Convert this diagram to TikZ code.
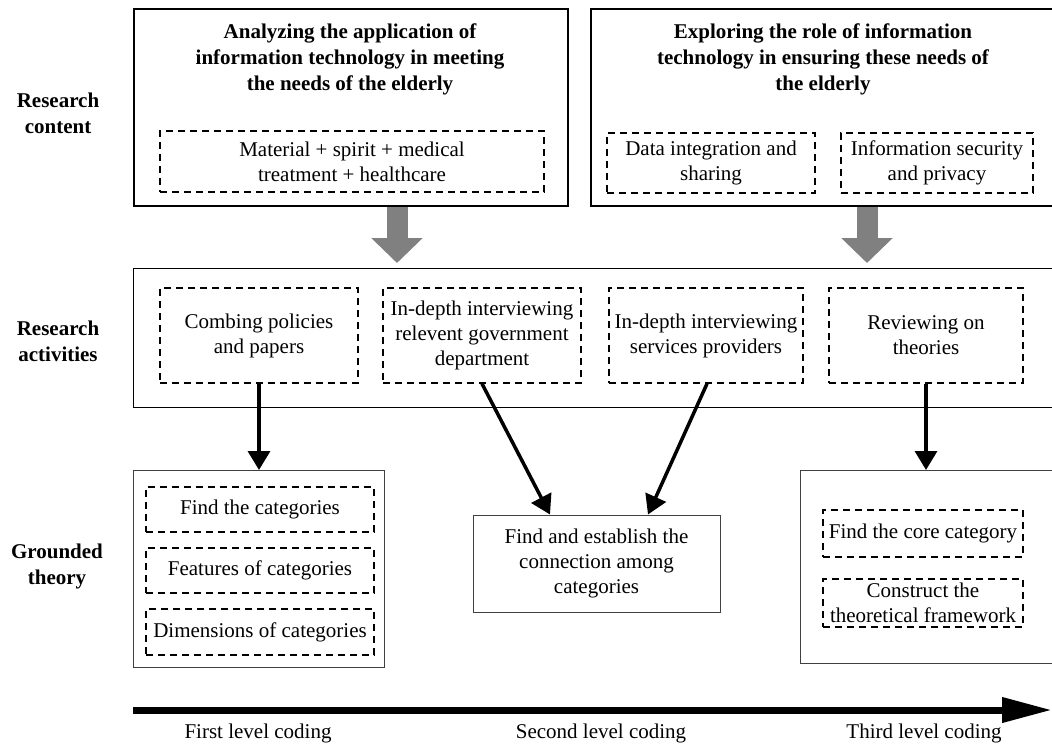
\documentclass[tikz,border=0pt]{standalone}
\usepackage{fontspec}
\setmainfont{Liberation Serif}
\usetikzlibrary{arrows.meta, positioning}

\begin{document}
\begin{tikzpicture}[x=1pt,y=-1pt,font=\fontsize{21}{25}\selectfont,
  outer/.style={draw, line width=1.8pt, inner sep=0pt, anchor=north west},
  inner/.style={draw=black!75, line width=1pt, inner sep=0pt, align=center},
  dbox/.style={draw, line width=1.4pt, dash pattern=on 7pt off 5pt, inner sep=0pt, align=center},
  heading/.style={font=\fontsize{21}{26}\selectfont\bfseries, align=center},
  rowlabel/.style={font=\fontsize{21}{26}\selectfont\bfseries, align=center},
  bigarrow/.style={draw=gray, line width=21pt, shorten >=5pt, -{Triangle[length=25pt,width=50pt]}},
  flow/.style={line width=3.5pt, -{Triangle[length=19pt,width=22pt]}},
  axis/.style={line width=7pt, -{Triangle[length=50pt,width=24pt]}}]

\useasboundingbox (0,0) rectangle (1052,745);

% row labels
  \node[rowlabel] (lcontent)  at (58,113) {Research\\content};
  \node[rowlabel] (lactivity) at (58,341) {Research\\activities};
  \node[rowlabel] (lgrounded) at (57,566) {Grounded\\theory};

% research content
  \node[outer, minimum width=434, minimum height=197] (content1) at (133,8) {};
  \node[heading] (head1) at (350,59)
{Analyzing the application of\\information technology in meeting\\the needs of the elderly};
  \node[dbox, minimum width=384, minimum height=61] (needs) at (352,161.5)
{Material + spirit + medical\\treatment + healthcare};

  \node[outer, minimum width=470, minimum height=197] (content2) at (590,8) {};
  \node[heading] (head2) at (823,59)
{Exploring the role of information\\technology in ensuring these needs of\\the elderly};
  \node[dbox, minimum width=208, minimum height=60] (data) at (711,163)
{Data integration and\\sharing};
  \node[dbox, minimum width=192, minimum height=60] (security) at (937,163)
{Information security\\and privacy};

% research activities
  \node[outer, line width=1.4pt, minimum width=930, minimum height=139] (activities) at (133,268) {};
  \node[dbox, minimum width=198, minimum height=95] (comb) at (259,335.5)
{Combing policies\\and papers};
  \node[dbox, minimum width=198, minimum height=95] (gov) at (482,335.5)
{In-depth interviewing\\relevent government\\department};
  \node[dbox, minimum width=194, minimum height=95] (prov) at (706,335.5)
{In-depth interviewing\\services providers};
  \node[dbox, minimum width=194, minimum height=95] (theo) at (926,335.5)
{Reviewing on\\theories};

% grounded theory
  \node[inner, anchor=north west, minimum width=251, minimum height=197] (ground1) at (133,470) {};
  \node[dbox, minimum width=228, minimum height=45] (cat)  at (260,509.5) {Find the categories};
  \node[dbox, minimum width=228, minimum height=45] (feat) at (260,570.5) {Features of categories};
  \node[dbox, minimum width=228, minimum height=46] (dims) at (260,632) {Dimensions of categories};

  \node[inner, minimum width=247, minimum height=97] (connect) at (596.5,563.5)
{Find and establish the\\connection among\\categories};

  \node[inner, anchor=north west, minimum width=260, minimum height=193] (ground3) at (800,470) {};
  \node[dbox, minimum width=200, minimum height=47] (core)  at (923,533.5) {Find the core category};
  \node[dbox, minimum width=200, minimum height=48] (frame) at (923,603)
{Construct the\\theoretical framework};

% coding stages
  \coordinate (axstart) at (133,710);
  \coordinate (axend)   at (1052,710);
  \node (stage1) at (258,733) {First level coding};
  \node (stage2) at (601,733) {Second level coding};
  \node (stage3) at (924,733) {Third level coding};

% define the links
  \coordinate (g1) at (397,0);
  \coordinate (g2) at (867,0);
  \draw[bigarrow] (content1.south -| g1) -- (activities.north -| g1);
  \draw[bigarrow] (content2.south -| g2) -- (activities.north -| g2);

  \draw[flow] (comb.south) -- (comb.south |- ground1.north);
  \draw[flow] (gov.south) -- ([xshift=-46.5]connect.north);
  \draw[flow] ([xshift=1]prov.south) -- ([xshift=51.5]connect.north);
  \draw[flow] (theo.south) -- (theo.south |- ground3.north);

  \draw[axis] (axstart) -- (axend);

\end{tikzpicture}
\end{document}
